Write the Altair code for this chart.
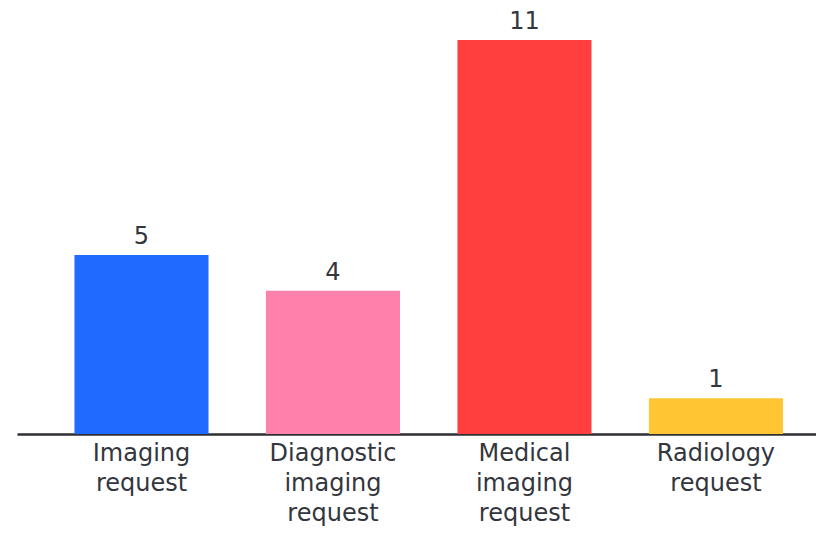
import altair as alt
import pandas as pd

categories = ["Imaging request", "Diagnostic imaging request", "Medical imaging request", "Radiology request"]
values = [5, 4, 11, 1]
colors = ["#1f6bff", "#ff80aa", "#ff3e3e", "#ffc533"]

df = pd.DataFrame({"category": categories, "value": values, "color": colors})

x = alt.X("category:N", sort=categories, title=None,
          scale=alt.Scale(paddingInner=0.3, paddingOuter=0.2363, align=0.635),
          axis=alt.Axis(labelAngle=0, ticks=False, domainColor="#2e3036", domainWidth=2.5,
                        labelExpr="split(datum.label, ' ')", labelLineHeight=30,
                        labelFont="DejaVu Sans", labelFontSize=24, labelColor="#33363d",
                        labelPadding=7, labelLimit=300))
y = alt.Y("value:Q", title=None, scale=alt.Scale(domain=[0, 11], nice=False), axis=None)

bars = alt.Chart(df).mark_bar().encode(x=x, y=y, color=alt.Color("color:N", scale=None))
text = alt.Chart(df).mark_text(baseline="alphabetic", dy=-11, font="DejaVu Sans", fontSize=24,
                               color="#33363d").encode(x=x, y=y, text="value:Q")

chart = (bars + text).properties(
    width=799, height=394,
    autosize=alt.AutoSizeParams(type="none"),
    padding={"left": 9, "top": 32, "right": 0, "bottom": 92},
).configure_view(stroke=None)

chart.save("out.html", embed_options={"renderer": "svg", "actions": False})
